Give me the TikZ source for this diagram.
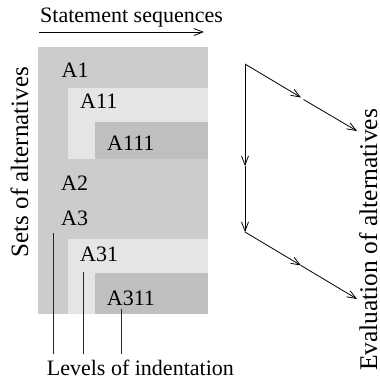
\documentclass[tikz,border=0pt]{standalone}
\usepackage{fontspec}
\setmainfont{Liberation Serif}
\usetikzlibrary{arrows.meta}
\definecolor{lvlone}{gray}{0.80}
\definecolor{lvltwo}{gray}{0.90}
\definecolor{lvlthree}{gray}{0.75}

\begin{document}
\begin{tikzpicture}[x=1pt,y=-1pt,
  lbl/.style={inner sep=0pt, anchor=base west, font=\fontsize{22}{26}\selectfont},
  side/.style={inner sep=0pt, anchor=base, rotate=90},
  flow/.style={line width=0.8pt, -{Straight Barb[length=9pt,width=7pt]}},
  tick/.style={line width=0.9pt, draw=black!85}]
\useasboundingbox (0,0) rectangle (380,381);

% nested blocks of alternatives
\fill[lvlone]   (38,47)  rectangle (208,314);
\fill[lvltwo]   (68,88)  rectangle (208,159);
\fill[lvlthree] (95,122) rectangle (208,159);
\fill[lvltwo]   (68,239) rectangle (208,314);
\fill[lvlthree] (95,273) rectangle (208,314);

% alternative labels
\node[lbl] (a1)   at (61.5,77.7)  {A1};
\node[lbl] (a11)  at (80,108.3)   {A11};
\node[lbl] (a111) at (107,150)    {A111};
\node[lbl] (a2)   at (61,190)     {A2};
\node[lbl] (a3)   at (61,225)     {A3};
\node[lbl] (a31)  at (80,261.7)   {A31};
\node[lbl] (a311) at (106.7,305)  {A311};

% axis captions
\node[lbl] (seq) at (40,22) {Statement sequences};
\coordinate (seq0) at (39,32);
\coordinate (seq1) at (204,32);
\draw[flow] (seq0) -- (seq1);

\node[side, font=\fontsize{25}{30}\selectfont] (sets) at (28,162) {Sets of alternatives};
\node[side, font=\fontsize{25.5}{30}\selectfont] (eval) at (377,240) {Evaluation of alternatives};

% indentation markers
\node[lbl] (lev) at (46.7,375) {Levels of indentation};
\coordinate (i1) at (53.3,233);
\coordinate (i2) at (83.3,272);
\coordinate (i3) at (121.7,309);
\coordinate (j1) at (53.3,354);
\coordinate (j2) at (83.3,354);
\coordinate (j3) at (121.7,354);
\draw[tick] (i1) -- (j1);
\draw[tick] (i2) -- (j2);
\draw[tick] (i3) -- (j3);

% evaluation flow
\coordinate (top)   at (245,64);
\coordinate (tmid)  at (301,97.5);
\coordinate (tmid2) at (303.5,99.5);
\coordinate (tend)  at (357,131);
\coordinate (vmid)  at (245,166);
\coordinate (bot)   at (245,232);
\coordinate (bmid)  at (301,265.5);
\coordinate (bend)  at (357,299);
\draw[flow] (top) -- (tmid);
\draw[flow] (tmid2) -- (tend);
\draw[flow] (top) -- (vmid);
\draw[flow] (vmid) -- (bot);
\draw[flow] (bot) -- (bmid);
\draw[flow] (bmid) -- (bend);
\end{tikzpicture}
\end{document}
